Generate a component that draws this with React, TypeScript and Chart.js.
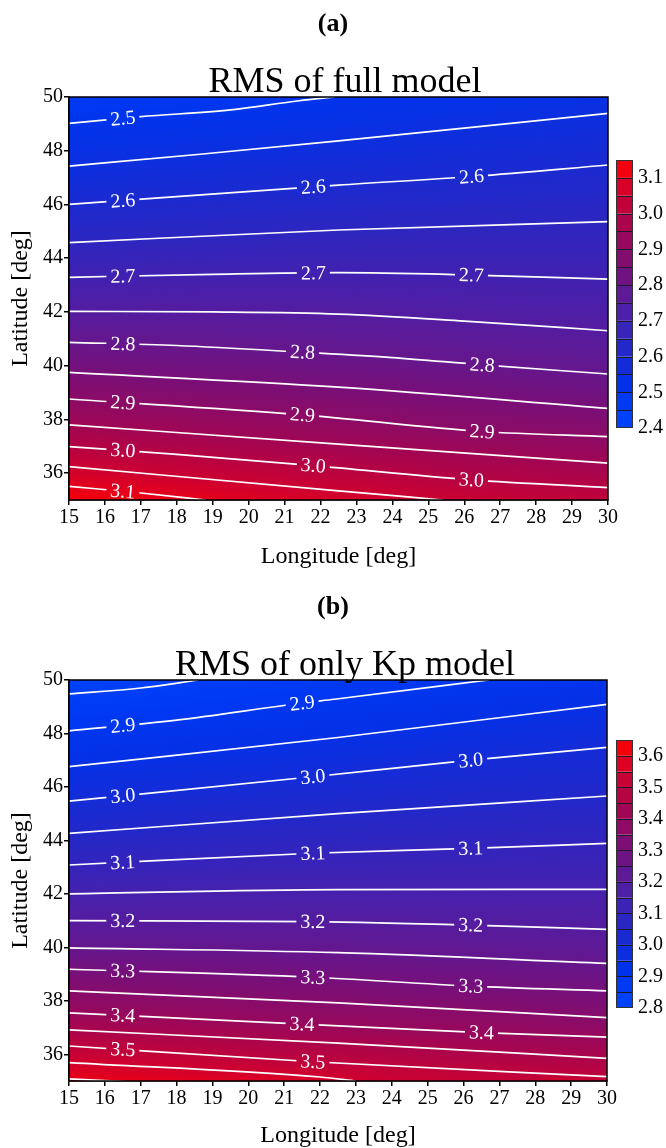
import React, { useEffect, useRef } from 'react';
import { Chart, registerables } from 'chart.js';

Chart.register(...registerables);

const FONT = "'Liberation Serif', 'Times New Roman', Times, serif";

// ---------- shared axes ----------
const lonTicks = [15, 16, 17, 18, 19, 20, 21, 22, 23, 24, 25, 26, 27, 28, 29, 30];
const latTicks = [36, 38, 40, 42, 44, 46, 48, 50];
const xTitle = 'Longitude [deg]';
const yTitle = 'Latitude [deg]';

// ---------- panel (a) ----------
const panelA = '(a)';
const titleA = 'RMS of full model';
const levelsA = [2.5, 2.55, 2.6, 2.65, 2.7, 2.75, 2.8, 2.85, 2.9, 2.95, 3.0, 3.05, 3.1];
const contoursA = [
  [[15, 49.02], [17, 49.27], [19.5, 49.52], [21.4, 49.86], [22.4, 50.0]],
  [[15, 47.43], [18.65, 47.87], [22.5, 48.37], [30, 49.39]],
  [[15, 46.0], [22.5, 46.72], [26.3, 47.05], [30, 47.47]],
  [[15, 44.58], [22.5, 45.05], [30, 45.36]],
  [[15, 43.29], [19, 43.4], [22.5, 43.46], [26, 43.38], [30, 43.22]],
  [[15, 42.02], [19, 42.0], [22.5, 41.92], [26, 41.66], [30, 41.3]],
  [[15, 40.87], [18, 40.75], [21.5, 40.5], [24, 40.3], [26.5, 40.03], [30, 39.69]],
  [[15, 39.75], [22.5, 39.2], [30, 38.41]],
  [[15, 38.76], [21.5, 38.17], [26.5, 37.55], [30, 37.36]],
  [[15, 37.8], [22.5, 37.08], [30, 36.37]],
  [[15, 36.99], [18, 36.7], [21.8, 36.28], [26.2, 35.75], [30, 35.46]],
  [[15, 36.24], [22.5, 35.34], [25.4, 35.0]],
  [[15, 35.51], [17, 35.26], [18.8, 35.0]],
];
const labelLevelsA = [2.5, 2.6, 2.7, 2.8, 2.9, 3.0, 3.1];
const labelLonsA = [
  [16.5],
  [16.5, 21.8, 26.2],
  [16.5, 21.8, 26.2],
  [16.5, 21.5, 26.5],
  [16.5, 21.5, 26.5],
  [16.5, 21.8, 26.2],
  [16.5],
];
const cbEdgesA = [2.4, 2.45, 2.5, 2.55, 2.6, 2.65, 2.7, 2.75, 2.8, 2.85, 2.9, 2.95, 3.0, 3.05, 3.1, 3.15];
const cbTicksA = [2.4, 2.5, 2.6, 2.7, 2.8, 2.9, 3.0, 3.1];

// ---------- panel (b) ----------
const panelB = '(b)';
const titleB = 'RMS of only Kp model';
const levelsB = [2.85, 2.9, 2.95, 3.0, 3.05, 3.1, 3.15, 3.2, 3.25, 3.3, 3.35, 3.4, 3.45, 3.5, 3.55, 3.6];
const contoursB = [
  [[15, 49.48], [17, 49.7], [18.6, 50.0]],
  [[15, 48.1], [18, 48.5], [21.5, 49.14], [22.4, 49.28], [26.7, 50.0]],
  [[15, 46.76], [22.5, 47.85], [30, 49.09]],
  [[15, 45.47], [21.8, 46.38], [26.2, 47.0], [30, 47.48]],
  [[15, 44.26], [22.5, 45.0], [30, 45.66]],
  [[15, 43.08], [21.8, 43.52], [26.2, 43.7], [30, 43.89]],
  [[15, 42.0], [22.5, 42.16], [30, 42.17]],
  [[15, 41.0], [21.8, 40.96], [26.2, 40.83], [30, 40.67]],
  [[15, 39.98], [22.5, 39.8], [30, 39.4]],
  [[15, 39.18], [21.8, 38.88], [26.2, 38.55], [30, 38.37]],
  [[15, 38.37], [22.5, 37.92], [30, 37.37]],
  [[15, 37.55], [21.5, 37.13], [26.5, 36.81], [30, 36.64]],
  [[15, 36.91], [22.5, 36.42], [30, 35.85]],
  [[15, 36.31], [21.8, 35.72], [30, 35.16]],
  [[15, 35.69], [22.0, 35.15], [23.0, 35.0]],
  [[15, 35.08], [17, 34.95]],
];
const labelLevelsB = [2.9, 3.0, 3.1, 3.2, 3.3, 3.4, 3.5];
const labelLonsB = [
  [16.5, 21.5],
  [16.5, 21.8, 26.2],
  [16.5, 21.8, 26.2],
  [16.5, 21.8, 26.2],
  [16.5, 21.8, 26.2],
  [16.5, 21.5, 26.5],
  [16.5, 21.8],
];
const cbEdgesB = [2.8, 2.85, 2.9, 2.95, 3.0, 3.05, 3.1, 3.15, 3.2, 3.25, 3.3, 3.35, 3.4, 3.45, 3.5, 3.55, 3.6, 3.65];
const cbTicksB = [2.8, 2.9, 3.0, 3.1, 3.2, 3.3, 3.4, 3.5, 3.6];

// ---------- colour map (blue -> purple -> red) ----------
const cmapPos = [0, 0.15, 0.3, 0.45, 0.6, 0.75, 0.9, 1];
const cmapRGB = [
  [0, 70, 255],
  [0, 50, 235],
  [35, 40, 200],
  [80, 30, 165],
  [120, 15, 120],
  [165, 5, 80],
  [215, 0, 40],
  [255, 0, 0],
];

function cmap(t: number): string {
  const tt = Math.max(0, Math.min(1, t));
  let i = 0;
  while (i < cmapPos.length - 2 && tt > cmapPos[i + 1]) i++;
  const f = (tt - cmapPos[i]) / (cmapPos[i + 1] - cmapPos[i]);
  const a = cmapRGB[i], b = cmapRGB[i + 1];
  const c = a.map((v, k) => Math.round(v + (b[k] - v) * f));
  return `rgb(${c[0]},${c[1]},${c[2]})`;
}

function latAt(pts: number[][], lon: number): number {
  let i = 0;
  if (lon >= pts[pts.length - 1][0]) i = pts.length - 2;
  else if (lon > pts[0][0]) {
    while (i < pts.length - 2 && lon > pts[i + 1][0]) i++;
  }
  const [x0, y0] = pts[i];
  const [x1, y1] = pts[i + 1];
  return y0 + ((y1 - y0) * (lon - x0)) / (x1 - x0);
}

type PanelCfg = {
  panel: string;
  title: string;
  levels: number[];
  contours: number[][][];
  labelLevels: number[];
  labelLons: number[][];
  cbEdges: number[];
  cbTicks: number[];
  H: number;
  plotTop: number;
  plotBottom: number;
  plotRight: number;
  cb: { x0: number; x1: number; y0: number; y1: number };
  xTitlePad: number;
};

const W = 666;

function makeChart(canvas: HTMLCanvasElement, p: PanelCfg): Chart {
  const vMin = p.cbEdges[0];
  const vMax = p.cbEdges[p.cbEdges.length - 1];
  const colorOf = (v: number) => cmap((v - vMin) / (vMax - vMin));
  const LABEL_FONT = `20px ${FONT}`;

  const labelGeom = (chart: any) => {
    const xs = chart.scales.x, ys = chart.scales.y;
    const ctx = chart.ctx as CanvasRenderingContext2D;
    ctx.save();
    ctx.font = LABEL_FONT;
    const out: { x: number; y: number; a: number; text: string; w: number }[] = [];
    p.labelLevels.forEach((lv, li) => {
      const ci = p.levels.indexOf(lv);
      if (ci < 0) return;
      const pts = p.contours[ci];
      p.labelLons[li].forEach((lon) => {
        const x = xs.getPixelForValue(lon);
        const y = ys.getPixelForValue(latAt(pts, lon));
        const xa = xs.getPixelForValue(lon - 0.5), ya = ys.getPixelForValue(latAt(pts, lon - 0.5));
        const xb = xs.getPixelForValue(lon + 0.5), yb = ys.getPixelForValue(latAt(pts, lon + 0.5));
        const a = Math.atan2(yb - ya, xb - xa);
        const text = lv.toFixed(1);
        out.push({ x, y, a, text, w: ctx.measureText(text).width });
      });
    });
    ctx.restore();
    return out;
  };

  const plugin = {
    id: 'contourDeco',
    beforeDatasetsDraw(chart: any) {
      const ctx = chart.ctx as CanvasRenderingContext2D;
      const { left, right, top, bottom } = chart.chartArea;
      const xs = chart.scales.x, ys = chart.scales.y;
      // smooth field between contour lines
      ctx.save();
      for (let px = Math.floor(left); px < Math.ceil(right); px++) {
        const lon = xs.getValueForPixel(px + 0.5);
        const s = p.levels.map((v, i) => ({ y: ys.getPixelForValue(latAt(p.contours[i], lon)), v }));
        const f = s[0], g2 = s[1], l = s[s.length - 1], pr = s[s.length - 2];
        s.unshift({ y: f.y - (g2.y - f.y), v: f.v - (g2.v - f.v) });
        s.push({ y: l.y + (l.y - pr.y), v: l.v + (l.v - pr.v) });
        s.sort((a, b) => a.y - b.y);
        const y0 = s[0].y, y1 = s[s.length - 1].y;
        const grad = ctx.createLinearGradient(0, y0, 0, y1);
        s.forEach((st) => grad.addColorStop(Math.max(0, Math.min(1, (st.y - y0) / (y1 - y0))), colorOf(st.v)));
        ctx.fillStyle = grad;
        ctx.fillRect(px, top, 1, bottom - top);
      }
      ctx.restore();
      // clip gaps for labels
      const labels = labelGeom(chart);
      ctx.save();
      ctx.beginPath();
      ctx.rect(0, 0, chart.width, chart.height);
      labels.forEach((L) => {
        const hw = L.w / 2 + 4, hh = 7;
        const c = Math.cos(L.a), sn = Math.sin(L.a);
        const corners = [[-hw, -hh], [hw, -hh], [hw, hh], [-hw, hh]].map(([dx, dy]) => [
          L.x + dx * c - dy * sn,
          L.y + dx * sn + dy * c,
        ]);
        ctx.moveTo(corners[0][0], corners[0][1]);
        for (let k = 1; k < 4; k++) ctx.lineTo(corners[k][0], corners[k][1]);
        ctx.closePath();
      });
      ctx.clip('evenodd');
    },
    afterDatasetsDraw(chart: any) {
      const ctx = chart.ctx as CanvasRenderingContext2D;
      ctx.restore();
      const { left, right, top, bottom } = chart.chartArea;
      const labels = labelGeom(chart);
      ctx.save();
      ctx.beginPath();
      ctx.rect(left, top, right - left, bottom - top);
      ctx.clip();
      ctx.font = LABEL_FONT;
      ctx.fillStyle = '#ffffff';
      ctx.textAlign = 'center';
      ctx.textBaseline = 'middle';
      labels.forEach((L) => {
        ctx.save();
        ctx.translate(L.x, L.y);
        ctx.rotate(L.a);
        ctx.fillText(L.text, 0, 1);
        ctx.restore();
      });
      ctx.restore();
    },
    afterDraw(chart: any) {
      const ctx = chart.ctx as CanvasRenderingContext2D;
      const { left, right, top, bottom } = chart.chartArea;
      ctx.save();
      // frame
      ctx.strokeStyle = '#000';
      ctx.lineWidth = 1.5;
      ctx.strokeRect(left, top, right - left, bottom - top);
      // panel letter and title
      ctx.fillStyle = '#000';
      ctx.textAlign = 'center';
      ctx.textBaseline = 'middle';
      ctx.font = `bold 26px ${FONT}`;
      ctx.fillText(p.panel, 333, 24);
      ctx.textBaseline = 'alphabetic';
      ctx.font = `36px ${FONT}`;
      ctx.fillText(p.title, 345, 92);
      // colorbar
      const { x0, x1, y0, y1 } = p.cb;
      const vy = (v: number) => y1 - ((v - vMin) / (vMax - vMin)) * (y1 - y0);
      for (let i = 0; i < p.cbEdges.length - 1; i++) {
        const a = p.cbEdges[i], b = p.cbEdges[i + 1];
        ctx.fillStyle = colorOf((a + b) / 2);
        ctx.fillRect(x0, vy(b), x1 - x0, vy(a) - vy(b));
      }
      ctx.strokeStyle = '#1a1a2a';
      ctx.lineWidth = 1;
      for (let i = 1; i < p.cbEdges.length - 1; i++) {
        const y = Math.round(vy(p.cbEdges[i])) + 0.5;
        ctx.beginPath();
        ctx.moveTo(x0, y);
        ctx.lineTo(x1, y);
        ctx.stroke();
      }
      ctx.strokeStyle = '#333';
      ctx.strokeRect(x0 + 0.5, y0 + 0.5, x1 - x0 - 1, y1 - y0 - 1);
      ctx.fillStyle = '#000';
      ctx.font = `20px ${FONT}`;
      ctx.textAlign = 'left';
      ctx.textBaseline = 'middle';
      p.cbTicks.forEach((v) => ctx.fillText(v.toFixed(1), x1 + 5, vy(v)));
      ctx.restore();
    },
  };

  const axisCommon = {
    type: 'linear' as const,
    grid: { display: true, drawOnChartArea: false, drawTicks: true, tickLength: 5, color: '#000', lineWidth: 1.5 },
    border: { display: true, color: '#000', width: 1.5 },
  };

  return new Chart(canvas, {
    type: 'scatter',
    data: {
      datasets: p.contours.map((c, i) => ({
        label: p.levels[i].toFixed(2),
        data: c.map(([x, y]) => ({ x, y })),
        showLine: true,
        borderColor: '#ffffff',
        borderWidth: 1.7,
        pointRadius: 0,
        pointHoverRadius: 0,
        cubicInterpolationMode: 'monotone' as const,
        fill: false,
        clip: 0,
      })),
    },
    options: {
      responsive: false,
      animation: false,
      devicePixelRatio: 1,
      events: [],
      layout: { padding: { top: p.plotTop, left: 0, right: W - p.plotRight, bottom: 0 } },
      plugins: { legend: { display: false }, tooltip: { enabled: false }, title: { display: false } },
      scales: {
        x: {
          ...axisCommon,
          position: 'bottom',
          min: 15,
          max: 30,
          afterBuildTicks: (s: any) => {
            s.ticks = lonTicks.map((v) => ({ value: v }));
          },
          afterFit: (s: any) => {
            s.height = p.H - p.plotBottom;
          },
          ticks: { font: { family: FONT, size: 20 }, color: '#000', padding: 1, maxRotation: 0, autoSkip: false },
          title: {
            display: true,
            text: xTitle,
            color: '#000',
            font: { family: FONT, size: 24, lineHeight: 1 },
            padding: { top: 0, bottom: p.xTitlePad },
          },
        },
        y: {
          ...axisCommon,
          position: 'left',
          min: 35,
          max: 50,
          afterBuildTicks: (s: any) => {
            s.ticks = latTicks.map((v) => ({ value: v }));
          },
          afterFit: (s: any) => {
            s.width = 69;
          },
          ticks: { font: { family: FONT, size: 20 }, color: '#000', padding: 1, autoSkip: false },
          title: {
            display: true,
            text: yTitle,
            color: '#000',
            font: { family: FONT, size: 24, lineHeight: 1 },
            padding: { top: 9, bottom: 0 },
          },
        },
      },
    } as any,
    plugins: [plugin],
  });
}

const cfgA: PanelCfg = {
  panel: panelA,
  title: titleA,
  levels: levelsA,
  contours: contoursA,
  labelLevels: labelLevelsA,
  labelLons: labelLonsA,
  cbEdges: cbEdgesA,
  cbTicks: cbTicksA,
  H: 583,
  plotTop: 97,
  plotBottom: 500,
  plotRight: 608,
  cb: { x0: 616, x1: 633, y0: 160, y1: 428 },
  xTitlePad: 14,
};

const cfgB: PanelCfg = {
  panel: panelB,
  title: titleB,
  levels: levelsB,
  contours: contoursB,
  labelLevels: labelLevelsB,
  labelLons: labelLonsB,
  cbEdges: cbEdgesB,
  cbTicks: cbTicksB,
  H: 565,
  plotTop: 97,
  plotBottom: 498,
  plotRight: 607,
  cb: { x0: 616, x1: 633, y0: 157, y1: 425 },
  xTitlePad: 0,
};

export default function App() {
  const refA = useRef<HTMLCanvasElement>(null);
  const refB = useRef<HTMLCanvasElement>(null);
  useEffect(() => {
    const ca = makeChart(refA.current as HTMLCanvasElement, cfgA);
    const cb = makeChart(refB.current as HTMLCanvasElement, cfgB);
    return () => {
      ca.destroy();
      cb.destroy();
    };
  }, []);
  return (
    <div style={{ position: 'absolute', left: 0, top: 0, width: 666, height: 1148, background: '#fff' }}>
      <canvas
        ref={refA}
        width={666}
        height={583}
        style={{ position: 'absolute', left: 0, top: 0, width: 666, height: 583 }}
      />
      <canvas
        ref={refB}
        width={666}
        height={565}
        style={{ position: 'absolute', left: 0, top: 583, width: 666, height: 565 }}
      />
    </div>
  );
}
